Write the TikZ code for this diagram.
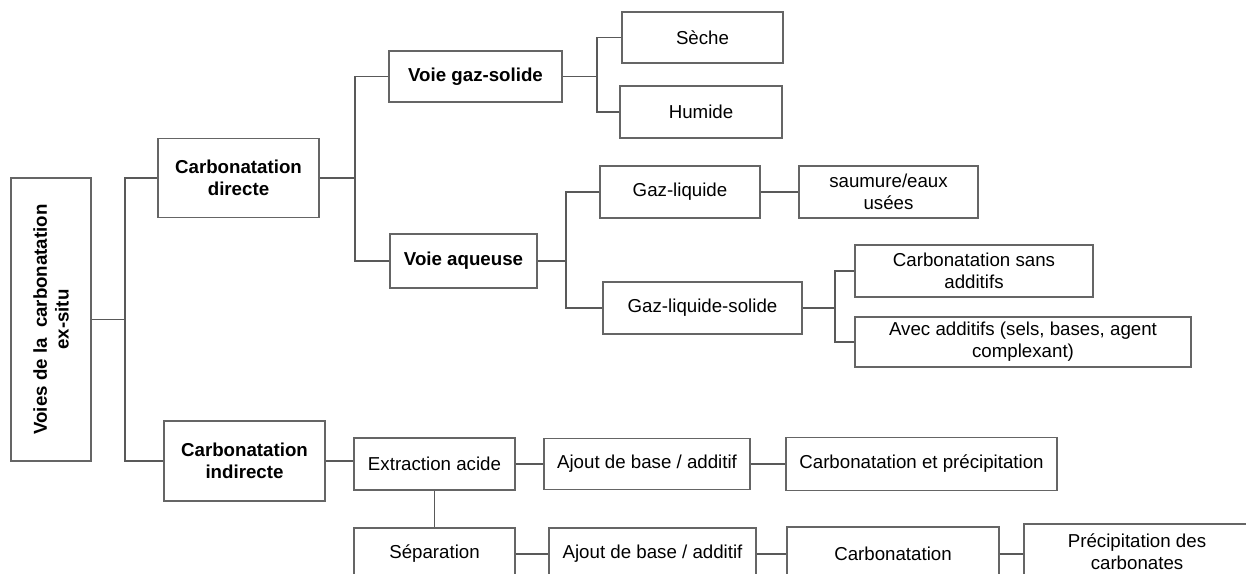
\documentclass[tikz,border=0pt]{standalone}
\usepackage{fontspec}
\setmainfont{Liberation Sans}
\usepackage{tikz}
\usepackage{xcolor}
\usetikzlibrary{positioning, calc}

\definecolor{linegray}{HTML}{595959}
\definecolor{boxgray}{HTML}{656565}

\begin{document}
\begin{tikzpicture}[
    x=1pt, y=-1pt, % one unit = one pixel of the layout, y going down
    every node/.style={font=\fontsize{18.7}{21.7}\selectfont},
    box/.style={draw=boxgray, line width=1.3pt, align=center, inner sep=0pt, fill=white},
    bold/.style={font=\fontsize{18.7}{21.7}\selectfont\bfseries},
    link/.style={draw=linegray, line width=1.2pt}
]
    \useasboundingbox (0,0) rectangle (1246,573);

    % Place the nodes
    \node (root) [box, bold, rotate=90, minimum width=283pt, minimum height=80pt] at (51,319.5) {Voies de la~ carbonatation\\ex-situ};
    \node (cd) [box, bold, minimum width=161pt, minimum height=79pt] at (238.5,178) {Carbonatation\\directe};
    \node (ci) [box, bold, minimum width=161pt, minimum height=80pt] at (244.5,461) {Carbonatation\\indirecte};

    \node (vgs) [box, bold, minimum width=173pt, minimum height=51pt] at (475.5,76.5) {Voie gaz-solide};
    \node (vaq) [box, bold, minimum width=147pt, minimum height=54pt] at (463.5,261) {Voie aqueuse};

    \node (seche) [box, minimum width=161pt, minimum height=51pt] at (702.5,37.5) {Sèche};
    \node (humide) [box, minimum width=162pt, minimum height=52pt] at (701,112) {Humide};

    \node (gl) [box, minimum width=160pt, minimum height=52pt] at (680,192) {Gaz-liquide};
    \node (saum) [box, minimum width=179pt, minimum height=52pt] at (888.5,192) {saumure/eaux\\usées};
    \node (gls) [box, minimum width=199pt, minimum height=52pt] at (702.5,308) {Gaz-liquide-solide};
    \node (sans) [box, minimum width=238pt, minimum height=52pt] at (974,271) {Carbonatation sans\\additifs};
    \node (avec) [box, minimum width=336pt, minimum height=50pt] at (1023,342) {Avec additifs (sels, bases, agent\\complexant)};

    \node (ext) [box, minimum width=161pt, minimum height=52pt] at (434.5,464) {Extraction acide};
    \node (ajout1) [box, minimum width=206pt, minimum height=51pt] at (647,464) {Ajout de base / additif};
    \node (cetp) [box, minimum width=271pt, minimum height=53pt] at (921.5,464) {Carbonatation et précipitation};

    \node (sep) [box, minimum width=161pt, minimum height=52pt] at (434.5,554) {Séparation};
    \node (ajout2) [box, minimum width=207pt, minimum height=52pt] at (652.5,554) {Ajout de base / additif};
    \node (carb) [box, minimum width=212pt, minimum height=54pt] at (893,554) {Carbonatation};
    \node (precip) [box, minimum width=226pt, minimum height=56pt] at (1137,552) {Précipitation des\\carbonates};

    % junctions of the trees
    \coordinate (j1) at (125,319.5);
    \coordinate (j2) at (355,178);
    \coordinate (j3) at (597,76.5);
    \coordinate (j4) at (566,261);
    \coordinate (j5) at (835,308);

    % Draw the edges (root is turned, its south side faces right)
    \draw [link] (root.south) -- (j1);
    \draw [link] (cd.west) -| (j1);
    \draw [link] (ci.west) -| (j1);

    \draw [link] (cd.east) -- (j2);
    \draw [link] (vgs.west) -| (j2);
    \draw [link] (vaq.west) -| (j2);

    \draw [link] (vgs.east) -- (j3);
    \draw [link] (seche.west) -| (j3);
    \draw [link] (humide.west) -| (j3);

    \draw [link] (vaq.east) -- (j4);
    \draw [link] (gl.west) -| (j4);
    \draw [link] (gls.west) -| (j4);
    \draw [link] (gl.east) -- (saum.west);

    \draw [link] (gls.east) -- (j5);
    \draw [link] (sans.west) -| (j5);
    \draw [link] (avec.west) -| (j5);

    % indirect route
    \draw [link] (ci.east) -- (ci.east -| ext.west);
    \draw [link] (ext.east) -- (ajout1.west);
    \draw [link] (ajout1.east) -- (cetp.west);
    \draw [link] (ext.south) -- (sep.north);
    \draw [link] (sep.east) -- (ajout2.west);
    \draw [link] (ajout2.east) -- (carb.west);
    \draw [link] (carb.east) -- (carb.east -| precip.west);
\end{tikzpicture}
\end{document}
